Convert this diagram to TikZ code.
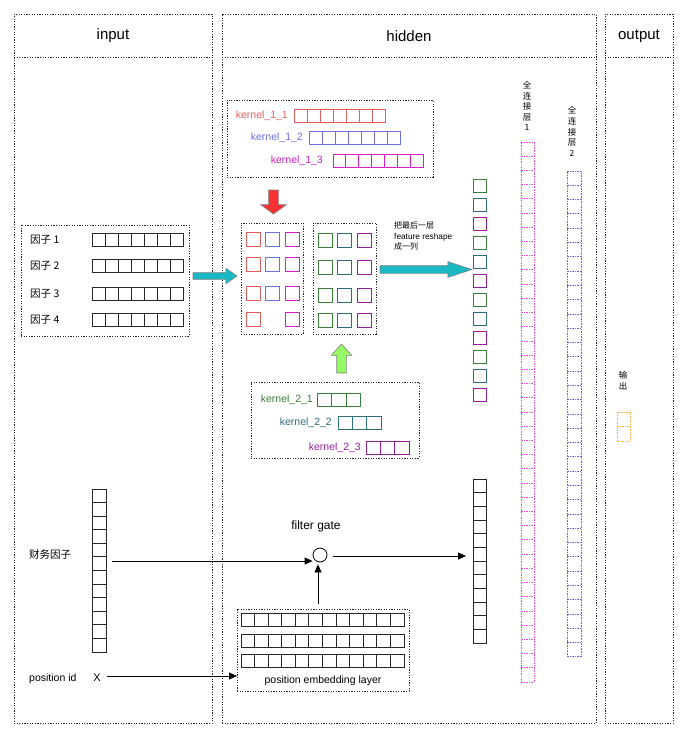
\documentclass[tikz,border=0pt]{standalone}
\usepackage{fontspec}
\setmainfont{Liberation Sans}
\newfontfamily\cjk{Noto Sans CJK SC}
\usetikzlibrary{arrows.meta,shapes.arrows,calc}
\definecolor{kred}{RGB}{225,95,95}
\definecolor{kblue}{RGB}{110,110,220}
\definecolor{kmag}{RGB}{210,30,200}
\definecolor{kgreen}{RGB}{60,125,60}
\definecolor{kteal}{RGB}{45,110,120}
\definecolor{kpurp}{RGB}{150,30,150}
\definecolor{fcmag}{RGB}{235,80,220}
\definecolor{fcblue}{RGB}{110,100,210}
\definecolor{fcor}{RGB}{250,180,80}
\definecolor{cyanA}{RGB}{25,185,195}
\definecolor{redA}{RGB}{250,50,50}
\definecolor{greenA}{RGB}{150,250,100}
\definecolor{dotc}{RGB}{40,40,40}
\definecolor{cellc}{RGB}{40,40,40}
\newcommand\hstrip[7]{%
  \node[#7, anchor=north west, minimum width={#4*#5}, minimum height=#6, inner sep=0pt, outer sep=0pt] (#1) at (#2,#3) {};
  \pgfmathtruncatemacro\stripm{#4-1}%
  \foreach \k in {1,...,\stripm} {\draw[#7] (#2+\k*#5,#3) -- ++(0,#6);}%
}
\newcommand\vstrip[7]{%
  \node[#7, anchor=north west, minimum width=#5, minimum height={#4*#6}, inner sep=0pt, outer sep=0pt] (#1) at (#2,#3) {};
  \pgfmathtruncatemacro\stripm{#4-1}%
  \foreach \k in {1,...,\stripm} {\draw[#7] (#2,#3+\k*#6) -- ++(#5,0);}%
}
\begin{document}
\begin{tikzpicture}[x=1pt,y=-1pt,
 panel/.style={draw=dotc, line width=0.9pt, dash pattern=on 1.2pt off 1.4pt, anchor=north west, inner sep=0pt, outer sep=0pt},
 dline/.style={draw=dotc, line width=0.9pt, dash pattern=on 1.2pt off 1.4pt},
 cb/.style={draw=cellc, line width=0.9pt},
 ck/.style={draw=#1, line width=1pt},
 sq/.style={draw=#1, line width=1.2pt, anchor=north west, minimum size=13.5pt, inner sep=0pt},
 fcs/.style={draw=#1, line width=0.8pt, dash pattern=on 1.6pt off 1pt},
 hdr/.style={font=\fontsize{15}{18}\selectfont, inner sep=0pt},
 lbl/.style={font=\fontsize{10.5}{12}\selectfont, inner sep=0pt},
 clbl/.style={font=\cjk\fontsize{10.5}{12}\selectfont, inner sep=0pt},
 vlbl/.style={font=\cjk\fontsize{8.5}{10.6}\selectfont, inner sep=0pt, align=center},
 arr/.style={-{Triangle[length=8pt,width=7pt]}, line width=0.8pt},
 barrow/.style={single arrow, draw=gray, line width=0.6pt, inner xsep=0pt, outer sep=0pt, single arrow head indent=0pt},
]
\useasboundingbox (0,0) rectangle (688,739);
% panels
\node[panel, minimum width=198, minimum height=709.5] (inP) at (14,14) {};
\node[panel, minimum width=374, minimum height=709.5] (hidP) at (222,14) {};
\node[panel, minimum width=68, minimum height=709.5] (outP) at (605,14) {};
\draw[dline] (14,57) -- (212,57);
\draw[dline] (222,57) -- (596,57);
\draw[dline] (605,57) -- (673,57);
\node[hdr] (tIn) at (113,36) {input};
\node[hdr] (tHid) at (409,36) {hidden};
\node[hdr] (tOut) at (639,36) {output};

% factors
\node[panel, minimum width=168, minimum height=111] (facBox) at (21,225) {};
\hstrip{f1}{92}{233}{7}{13}{13.5}{cb}
\hstrip{f2}{92}{259}{7}{13}{13.5}{cb}
\hstrip{f3}{92}{287}{7}{13}{13.5}{cb}
\hstrip{f4}{92}{313}{7}{13}{13.5}{cb}
\node[clbl, anchor=west] (lf1) at (30,240) {因子 1};
\node[clbl, anchor=west] (lf2) at (30,266) {因子 2};
\node[clbl, anchor=west] (lf3) at (30,294) {因子 3};
\node[clbl, anchor=west] (lf4) at (30,320) {因子 4};

% kernel 1 box
\node[panel, minimum width=206, minimum height=77] (k1box) at (227,100) {};
\hstrip{k11}{294}{109}{7}{13.1}{13.5}{ck=kred}
\hstrip{k12}{309}{131}{7}{13.0}{13.5}{ck=kblue}
\hstrip{k13}{333}{154}{7}{12.9}{13.5}{ck=kmag}
\node[lbl, text=kred, anchor=east] (lk11) at ($(k11.west)+(-6,0)$) {kernel\_1\_1};
\node[lbl, text=kblue, anchor=east] (lk12) at ($(k12.west)+(-6,0)$) {kernel\_1\_2};
\node[lbl, text=kmag, anchor=east] (lk13) at ($(k13.west)+(-10,0)$) {kernel\_1\_3};

% red arrow
\node[barrow, fill=redA, rotate=-90, anchor=tail, inner ysep=4.5pt, minimum height=24pt, single arrow head extend=8pt, single arrow tip angle=108] (redArr) at (273.5,190) {};

% conv grid 1
\node[panel, minimum width=62, minimum height=111] (g1) at (241,223) {};
\node[sq=kred] (a11) at (246,232) {};
\node[sq=kblue] (a12) at (265,232) {};
\node[sq=kmag] (a13) at (285,232) {};
\node[sq=kred] (a21) at (246,257) {};
\node[sq=kblue] (a22) at (265,257) {};
\node[sq=kmag] (a23) at (285,257) {};
\node[sq=kred] (a31) at (246,286) {};
\node[sq=kblue] (a32) at (265,286) {};
\node[sq=kmag] (a33) at (285,286) {};
\node[sq=kred] (a41) at (246,312) {};
\node[sq=kmag] (a43) at (285,312) {};
% conv grid 2
\node[panel, minimum width=63, minimum height=111] (g2) at (313,223) {};
\foreach \yy/\nn in {233/1,260/2,288/3,313/4} {
  \node[sq=kgreen] (b\nn a) at (318,\yy) {};
  \node[sq=kteal] (b\nn b) at (337,\yy) {};
  \node[sq=kpurp] (b\nn c) at (357,\yy) {};
}

% cyan arrows
\node[barrow, fill=cyanA, anchor=tail, inner ysep=3pt, minimum height=44pt, single arrow head extend=4.5pt, single arrow tip angle=70] (cyIn) at (193,276) {};
\node[barrow, fill=cyanA, anchor=tail, inner ysep=3.5pt, minimum height=92pt, single arrow head extend=4pt, single arrow tip angle=36] (cyOut) at (380,269.5) {};
\node[anchor=north west, inner sep=0pt, align=left, font=\cjk\fontsize{8}{10.5}\selectfont] (reshTxt) at (394,222) {把最后一层\\{\rmfamily\fontsize{8.3}{10.5}\selectfont feature reshape}\\成一列};

% green arrow
\node[barrow, fill=greenA, rotate=90, anchor=tail, inner ysep=4.5pt, minimum height=29pt, single arrow head extend=5.5pt, single arrow tip angle=84] (grnArr) at (341.5,373) {};

% kernel 2 box
\node[panel, minimum width=168, minimum height=76] (k2box) at (251,382) {};
\hstrip{k21}{317}{393}{3}{14.6}{13.5}{ck=kgreen}
\hstrip{k22}{338}{416}{3}{14.4}{13.5}{ck=kteal}
\hstrip{k23}{366}{441}{3}{14.4}{13.5}{ck=kpurp}
\node[lbl, text=kgreen, anchor=east] (lk21) at ($(k21.west)+(-4,0)$) {kernel\_2\_1};
\node[lbl, text=kteal, anchor=east] (lk22) at ($(k22.west)+(-6,0)$) {kernel\_2\_2};
\node[lbl, text=kpurp, anchor=east] (lk23) at ($(k23.west)+(-5,0)$) {kernel\_2\_3};

% reshaped column
\foreach \c [count=\i from 0] in {kgreen,kteal,kpurp,kgreen,kteal,kpurp,kgreen,kteal,kpurp,kgreen,kteal,kpurp}
  \node[sq=\c, minimum size=13pt] (r\i) at (473,179+19*\i) {};

% fully connected layers
\vstrip{fc1}{521}{142}{38}{13}{14.21}{fcs=fcmag}
\vstrip{fc2}{567}{171}{34}{14}{14.29}{fcs=fcblue}
\node[vlbl] (lfc1) at (527,106) {全\\连\\接\\层\\1};
\node[vlbl] (lfc2) at (572,131.5) {全\\连\\接\\层\\2};

% output
\node[vlbl] (lout) at (623,381) {输\\出};
\vstrip{outc}{617}{412}{2}{13}{14.5}{fcs=fcor}

% bottom part
\vstrip{fin}{92}{489}{12}{14}{13.58}{cb}
\vstrip{hcol}{473}{479}{12}{13}{13.67}{cb}
\node[clbl, anchor=west] (lfin) at (29,554) {财务因子};
\node[lbl, anchor=west] (lpos) at (29,679) {position id};
\node[inner sep=0pt, font=\fontsize{11}{12}\selectfont] (xid) at (97,678) {X};
\node[inner sep=0pt, font=\fontsize{12}{14}\selectfont] (fg) at (316,526) {filter gate};
\node[circle, draw=black, line width=0.8pt, minimum size=14pt, inner sep=0pt] (gate) at (320,555) {};

\node[panel, minimum width=172, minimum height=82] (emb) at (237,609) {};
\hstrip{e1}{241}{613}{12}{13.58}{13.5}{cb}
\hstrip{e2}{241}{634}{12}{13.58}{13.5}{cb}
\hstrip{e3}{241}{654}{12}{13.58}{13.5}{cb}
\node[lbl] (embl) at (323,681) {position embedding layer};

\coordinate (finout) at (112,561);
\draw[arr] (finout) -- (finout -| gate.west);
\draw[arr] ($(gate.east)+(6,1)$) -- ($(gate.east -| hcol.west)+(-7,1)$);
\draw[arr] ($(gate.south |- emb.north)+(-2,-5)$) -- ($(gate.south)+(-2,2)$);
\draw[arr] ($(xid.east)+(6,-2)$) -- ($(xid.east -| emb.west)+(0,-2)$);
\end{tikzpicture}
\end{document}
